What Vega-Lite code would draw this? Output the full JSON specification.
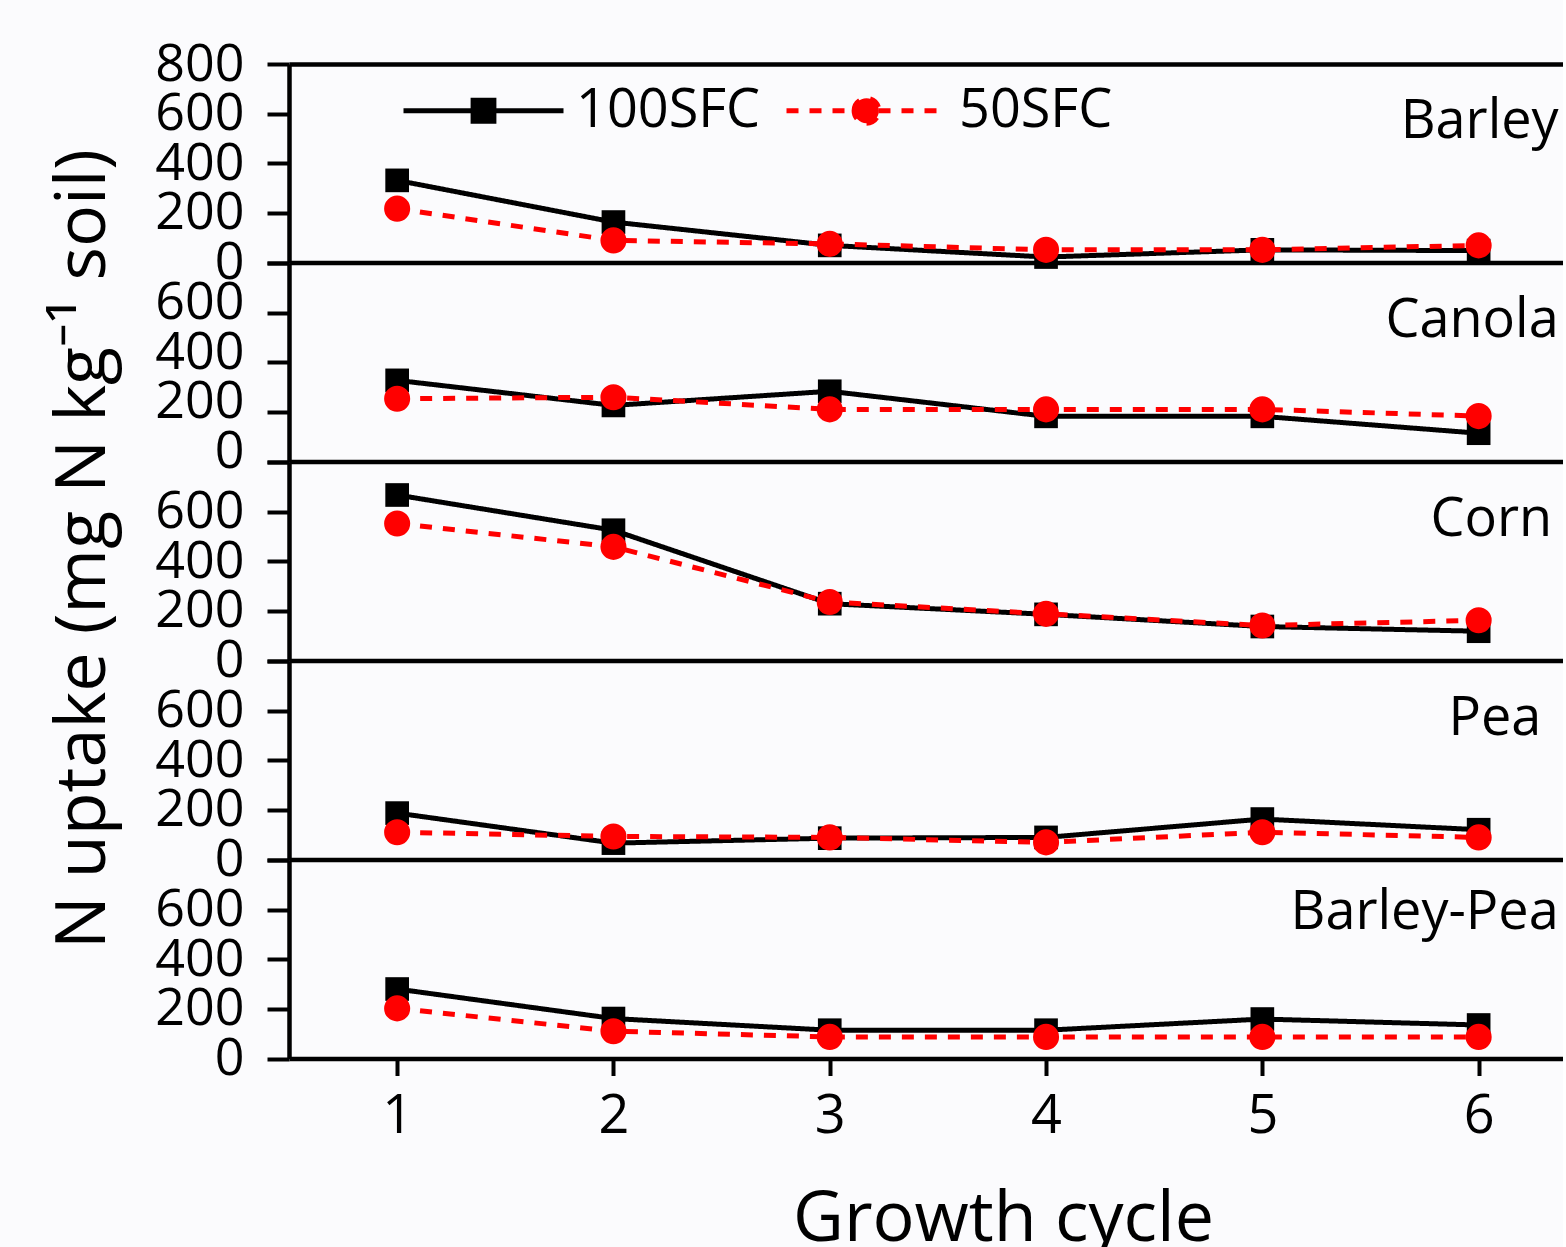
{
  "$schema": "https://vega.github.io/schema/vega-lite/v6.json",
  "background": "#fbfbfd",
  "padding": {"left": 47, "top": 28, "right": 0, "bottom": 0},
  "spacing": 0,
  "bounds": "flush",
  "config": {
    "font": "Open Sans",
    "view": {"stroke": null},
    "axis": {"grid": false, "domainColor": "black", "tickColor": "black", "labelColor": "black", "titleColor": "black", "titleFontWeight": "normal"}
  },
  "datasets": {
    "uptake": [
      {"crop": "Barley", "treatment": "100SFC", "cycle": 1, "uptake": 331},
      {"crop": "Barley", "treatment": "100SFC", "cycle": 2, "uptake": 163},
      {"crop": "Barley", "treatment": "100SFC", "cycle": 3, "uptake": 69},
      {"crop": "Barley", "treatment": "100SFC", "cycle": 4, "uptake": 22},
      {"crop": "Barley", "treatment": "100SFC", "cycle": 5, "uptake": 51},
      {"crop": "Barley", "treatment": "100SFC", "cycle": 6, "uptake": 48},
      {"crop": "Canola", "treatment": "100SFC", "cycle": 1, "uptake": 327},
      {"crop": "Canola", "treatment": "100SFC", "cycle": 2, "uptake": 226},
      {"crop": "Canola", "treatment": "100SFC", "cycle": 3, "uptake": 283},
      {"crop": "Canola", "treatment": "100SFC", "cycle": 4, "uptake": 182},
      {"crop": "Canola", "treatment": "100SFC", "cycle": 5, "uptake": 182},
      {"crop": "Canola", "treatment": "100SFC", "cycle": 6, "uptake": 114},
      {"crop": "Corn", "treatment": "100SFC", "cycle": 1, "uptake": 667},
      {"crop": "Corn", "treatment": "100SFC", "cycle": 2, "uptake": 525},
      {"crop": "Corn", "treatment": "100SFC", "cycle": 3, "uptake": 229},
      {"crop": "Corn", "treatment": "100SFC", "cycle": 4, "uptake": 186},
      {"crop": "Corn", "treatment": "100SFC", "cycle": 5, "uptake": 137},
      {"crop": "Corn", "treatment": "100SFC", "cycle": 6, "uptake": 118},
      {"crop": "Pea", "treatment": "100SFC", "cycle": 1, "uptake": 187},
      {"crop": "Pea", "treatment": "100SFC", "cycle": 2, "uptake": 66},
      {"crop": "Pea", "treatment": "100SFC", "cycle": 3, "uptake": 86},
      {"crop": "Pea", "treatment": "100SFC", "cycle": 4, "uptake": 89},
      {"crop": "Pea", "treatment": "100SFC", "cycle": 5, "uptake": 163},
      {"crop": "Pea", "treatment": "100SFC", "cycle": 6, "uptake": 120},
      {"crop": "Barley-Pea", "treatment": "100SFC", "cycle": 1, "uptake": 280},
      {"crop": "Barley-Pea", "treatment": "100SFC", "cycle": 2, "uptake": 161},
      {"crop": "Barley-Pea", "treatment": "100SFC", "cycle": 3, "uptake": 114},
      {"crop": "Barley-Pea", "treatment": "100SFC", "cycle": 4, "uptake": 114},
      {"crop": "Barley-Pea", "treatment": "100SFC", "cycle": 5, "uptake": 159},
      {"crop": "Barley-Pea", "treatment": "100SFC", "cycle": 6, "uptake": 135},
      {"crop": "Barley", "treatment": "50SFC", "cycle": 1, "uptake": 217},
      {"crop": "Barley", "treatment": "50SFC", "cycle": 2, "uptake": 89},
      {"crop": "Barley", "treatment": "50SFC", "cycle": 3, "uptake": 75},
      {"crop": "Barley", "treatment": "50SFC", "cycle": 4, "uptake": 51},
      {"crop": "Barley", "treatment": "50SFC", "cycle": 5, "uptake": 51},
      {"crop": "Barley", "treatment": "50SFC", "cycle": 6, "uptake": 69},
      {"crop": "Canola", "treatment": "50SFC", "cycle": 1, "uptake": 253},
      {"crop": "Canola", "treatment": "50SFC", "cycle": 2, "uptake": 259},
      {"crop": "Canola", "treatment": "50SFC", "cycle": 3, "uptake": 210},
      {"crop": "Canola", "treatment": "50SFC", "cycle": 4, "uptake": 210},
      {"crop": "Canola", "treatment": "50SFC", "cycle": 5, "uptake": 210},
      {"crop": "Canola", "treatment": "50SFC", "cycle": 6, "uptake": 183},
      {"crop": "Corn", "treatment": "50SFC", "cycle": 1, "uptake": 552},
      {"crop": "Corn", "treatment": "50SFC", "cycle": 2, "uptake": 458},
      {"crop": "Corn", "treatment": "50SFC", "cycle": 3, "uptake": 236},
      {"crop": "Corn", "treatment": "50SFC", "cycle": 4, "uptake": 188},
      {"crop": "Corn", "treatment": "50SFC", "cycle": 5, "uptake": 141},
      {"crop": "Corn", "treatment": "50SFC", "cycle": 6, "uptake": 162},
      {"crop": "Pea", "treatment": "50SFC", "cycle": 1, "uptake": 110},
      {"crop": "Pea", "treatment": "50SFC", "cycle": 2, "uptake": 93},
      {"crop": "Pea", "treatment": "50SFC", "cycle": 3, "uptake": 89},
      {"crop": "Pea", "treatment": "50SFC", "cycle": 4, "uptake": 69},
      {"crop": "Pea", "treatment": "50SFC", "cycle": 5, "uptake": 110},
      {"crop": "Pea", "treatment": "50SFC", "cycle": 6, "uptake": 89},
      {"crop": "Barley-Pea", "treatment": "50SFC", "cycle": 1, "uptake": 202},
      {"crop": "Barley-Pea", "treatment": "50SFC", "cycle": 2, "uptake": 110},
      {"crop": "Barley-Pea", "treatment": "50SFC", "cycle": 3, "uptake": 87},
      {"crop": "Barley-Pea", "treatment": "50SFC", "cycle": 4, "uptake": 87},
      {"crop": "Barley-Pea", "treatment": "50SFC", "cycle": 5, "uptake": 87},
      {"crop": "Barley-Pea", "treatment": "50SFC", "cycle": 6, "uptake": 87}
    ]
  },
  "vconcat": [
    {
      "width": 1274, "height": 198.5,
      "data": {"name": "uptake"},
      "transform": [{"filter": "datum.crop === 'Barley'"}],
      "resolve": {"axis": {"x": "independent"}},
      "layer": [
        {
          "mark": {"type": "line", "strokeWidth": 5},
          "encoding": {
            "x": {"field": "cycle", "type": "quantitative", "scale": {"domain": [0.5, 6.39], "nice": false, "zero": false},
                  "axis": {"orient": "bottom", "domainWidth": 4.5, "ticks": false, "labels": false, "title": null}},
            "y": {"field": "uptake", "type": "quantitative", "scale": {"domain": [0, 800], "nice": false},
                  "axis": {"values": [0, 100, 200, 300, 400, 500, 600, 700, 800], "labelExpr": "datum.value % 200 === 0 ? datum.label : ''",
                           "tickSize": {"condition": {"test": "datum.value % 200 === 0", "value": 22}, "value": 11},
                           "tickWidth": 4, "domainWidth": 4.5, "labelFontSize": 52, "labelPadding": 23, "labelOverlap": false, "labelBound": false, "labelFlush": false, "title": null}},
            "color": {"field": "treatment", "type": "nominal", "scale": {"domain": ["100SFC", "50SFC"], "range": ["#000000", "#ff0000"]},
                      "legend": {"title": null, "orient": "none", "legendX": 112, "legendY": -36, "direction": "horizontal", "padding": 0,
                                 "symbolSize": 25600, "symbolStrokeWidth": 5, "labelFontSize": 54, "labelColor": "black", "labelOffset": 10, "labelLimit": 400, "columnPadding": 15,
                                 "encode": {"symbols": {"update": {
                                   "shape": {"signal": "datum.value === '100SFC' ? 'M-1,0H1M-0.13,-0.13H0.13V0.13H-0.13Z' : 'M-1,0H1M-0.155,0A0.155,0.155,0,1,1,0.155,0A0.155,0.155,0,1,1,-0.155,0Z'"},
                                   "fill": {"signal": "datum.value === '100SFC' ? '#000000' : '#ff0000'"},
                                   "stroke": {"signal": "datum.value === '100SFC' ? '#000000' : '#ff0000'"},
                                   "strokeDash": {"signal": "datum.value === '100SFC' ? [1, 0] : [12, 11]"},
                                   "strokeWidth": {"value": 5},
                                   "opacity": {"value": 1}}}}}},
            "strokeDash": {"field": "treatment", "type": "nominal", "scale": {"domain": ["100SFC", "50SFC"], "range": [[1, 0], [12, 11]]}, "legend": null}
          }
        },
        {
          "transform": [{"filter": "datum.treatment === '100SFC'"}],
          "mark": {"type": "point", "shape": "square", "filled": true, "opacity": 1, "size": 560, "color": "#000000"},
          "encoding": {
            "x": {"field": "cycle", "type": "quantitative", "axis": {"orient": "top", "domainWidth": 4.5, "ticks": false, "labels": false, "title": null}},
            "y": {"field": "uptake", "type": "quantitative"}
          }
        },
        {
          "transform": [{"filter": "datum.treatment === '50SFC'"}],
          "mark": {"type": "point", "shape": "circle", "filled": true, "opacity": 1, "size": 680, "color": "#ff0000"},
          "encoding": {
            "x": {"field": "cycle", "type": "quantitative", "axis": null},
            "y": {"field": "uptake", "type": "quantitative"}
          }
        },
        {
          "transform": [{"filter": "datum.cycle === 1 && datum.treatment === '100SFC'"}],
          "mark": {"type": "text", "align": "right", "baseline": "alphabetic", "fontSize": 54, "color": "black"},
          "encoding": {
            "x": {"datum": 6.37, "type": "quantitative", "axis": null},
            "y": {"datum": 500, "type": "quantitative"},
            "text": {"field": "crop"}
          }
        }
      ]
    },
    {
      "width": 1274, "height": 198.5,
      "data": {"name": "uptake"},
      "transform": [{"filter": "datum.crop === 'Canola'"}],
      "layer": [
        {
          "mark": {"type": "line", "strokeWidth": 5},
          "encoding": {
            "x": {"field": "cycle", "type": "quantitative", "scale": {"domain": [0.5, 6.39], "nice": false, "zero": false},
                  "axis": {"orient": "bottom", "domainWidth": 4.5, "ticks": false, "labels": false, "title": null}},
            "y": {"field": "uptake", "type": "quantitative", "scale": {"domain": [0, 800], "nice": false},
                  "axis": {"values": [0, 100, 200, 300, 400, 500, 600, 700, 800], "labelExpr": "datum.value % 200 === 0 && datum.value < 800 ? datum.label : ''",
                           "tickSize": {"condition": {"test": "datum.value % 200 === 0", "value": 22}, "value": 11},
                           "tickWidth": 4, "domainWidth": 4.5, "labelFontSize": 52, "labelPadding": 23, "labelOffset": -10, "labelOverlap": false, "labelBound": false, "labelFlush": false, "title": null}},
            "color": {"field": "treatment", "type": "nominal", "scale": {"domain": ["100SFC", "50SFC"], "range": ["#000000", "#ff0000"]}, "legend": null},
            "strokeDash": {"field": "treatment", "type": "nominal", "scale": {"domain": ["100SFC", "50SFC"], "range": [[1, 0], [12, 11]]}, "legend": null}
          }
        },
        {
          "transform": [{"filter": "datum.treatment === '100SFC'"}],
          "mark": {"type": "point", "shape": "square", "filled": true, "opacity": 1, "size": 560, "color": "#000000"},
          "encoding": {"x": {"field": "cycle", "type": "quantitative"}, "y": {"field": "uptake", "type": "quantitative"}}
        },
        {
          "transform": [{"filter": "datum.treatment === '50SFC'"}],
          "mark": {"type": "point", "shape": "circle", "filled": true, "opacity": 1, "size": 680, "color": "#ff0000"},
          "encoding": {"x": {"field": "cycle", "type": "quantitative"}, "y": {"field": "uptake", "type": "quantitative"}}
        },
        {
          "transform": [{"filter": "datum.cycle === 1 && datum.treatment === '100SFC'"}],
          "mark": {"type": "text", "align": "right", "baseline": "alphabetic", "fontSize": 54, "color": "black"},
          "encoding": {"x": {"datum": 6.37, "type": "quantitative"}, "y": {"datum": 500, "type": "quantitative"}, "text": {"field": "crop"}}
        }
      ]
    },
    {
      "width": 1274, "height": 198.5,
      "data": {"name": "uptake"},
      "transform": [{"filter": "datum.crop === 'Corn'"}],
      "layer": [
        {
          "mark": {"type": "line", "strokeWidth": 5},
          "encoding": {
            "x": {"field": "cycle", "type": "quantitative", "scale": {"domain": [0.5, 6.39], "nice": false, "zero": false},
                  "axis": {"orient": "bottom", "domainWidth": 4.5, "ticks": false, "labels": false, "title": null}},
            "y": {"field": "uptake", "type": "quantitative", "scale": {"domain": [0, 800], "nice": false},
                  "axis": {"values": [0, 100, 200, 300, 400, 500, 600, 700, 800], "labelExpr": "datum.value % 200 === 0 && datum.value < 800 ? datum.label : ''",
                           "tickSize": {"condition": {"test": "datum.value % 200 === 0", "value": 22}, "value": 11},
                           "tickWidth": 4, "domainWidth": 4.5, "labelFontSize": 52, "labelPadding": 23, "labelOverlap": false, "labelBound": false, "labelFlush": false,
                           "title": "N uptake (mg N kg⁻¹ soil)", "titleFontSize": 70, "titleX": -185, "titleY": 86.5, "titleBaseline": "alphabetic", "titleAlign": "center", "titleAngle": -90}},
            "color": {"field": "treatment", "type": "nominal", "scale": {"domain": ["100SFC", "50SFC"], "range": ["#000000", "#ff0000"]}, "legend": null},
            "strokeDash": {"field": "treatment", "type": "nominal", "scale": {"domain": ["100SFC", "50SFC"], "range": [[1, 0], [12, 11]]}, "legend": null}
          }
        },
        {
          "transform": [{"filter": "datum.treatment === '100SFC'"}],
          "mark": {"type": "point", "shape": "square", "filled": true, "opacity": 1, "size": 560, "color": "#000000"},
          "encoding": {"x": {"field": "cycle", "type": "quantitative"}, "y": {"field": "uptake", "type": "quantitative"}}
        },
        {
          "transform": [{"filter": "datum.treatment === '50SFC'"}],
          "mark": {"type": "point", "shape": "circle", "filled": true, "opacity": 1, "size": 680, "color": "#ff0000"},
          "encoding": {"x": {"field": "cycle", "type": "quantitative"}, "y": {"field": "uptake", "type": "quantitative"}}
        },
        {
          "transform": [{"filter": "datum.cycle === 1 && datum.treatment === '100SFC'"}],
          "mark": {"type": "text", "align": "right", "baseline": "alphabetic", "fontSize": 54, "color": "black"},
          "encoding": {"x": {"datum": 6.34, "type": "quantitative"}, "y": {"datum": 500, "type": "quantitative"}, "text": {"field": "crop"}}
        }
      ]
    },
    {
      "width": 1274, "height": 198.5,
      "data": {"name": "uptake"},
      "transform": [{"filter": "datum.crop === 'Pea'"}],
      "layer": [
        {
          "mark": {"type": "line", "strokeWidth": 5},
          "encoding": {
            "x": {"field": "cycle", "type": "quantitative", "scale": {"domain": [0.5, 6.39], "nice": false, "zero": false},
                  "axis": {"orient": "bottom", "domainWidth": 4.5, "ticks": false, "labels": false, "title": null}},
            "y": {"field": "uptake", "type": "quantitative", "scale": {"domain": [0, 800], "nice": false},
                  "axis": {"values": [0, 100, 200, 300, 400, 500, 600, 700, 800], "labelExpr": "datum.value % 200 === 0 && datum.value < 800 ? datum.label : ''",
                           "tickSize": {"condition": {"test": "datum.value % 200 === 0", "value": 22}, "value": 11},
                           "tickWidth": 4, "domainWidth": 4.5, "labelFontSize": 52, "labelPadding": 23, "labelOverlap": false, "labelBound": false, "labelFlush": false, "title": null}},
            "color": {"field": "treatment", "type": "nominal", "scale": {"domain": ["100SFC", "50SFC"], "range": ["#000000", "#ff0000"]}, "legend": null},
            "strokeDash": {"field": "treatment", "type": "nominal", "scale": {"domain": ["100SFC", "50SFC"], "range": [[1, 0], [12, 11]]}, "legend": null}
          }
        },
        {
          "transform": [{"filter": "datum.treatment === '100SFC'"}],
          "mark": {"type": "point", "shape": "square", "filled": true, "opacity": 1, "size": 560, "color": "#000000"},
          "encoding": {"x": {"field": "cycle", "type": "quantitative"}, "y": {"field": "uptake", "type": "quantitative"}}
        },
        {
          "transform": [{"filter": "datum.treatment === '50SFC'"}],
          "mark": {"type": "point", "shape": "circle", "filled": true, "opacity": 1, "size": 680, "color": "#ff0000"},
          "encoding": {"x": {"field": "cycle", "type": "quantitative"}, "y": {"field": "uptake", "type": "quantitative"}}
        },
        {
          "transform": [{"filter": "datum.cycle === 1 && datum.treatment === '100SFC'"}],
          "mark": {"type": "text", "align": "right", "baseline": "alphabetic", "fontSize": 54, "color": "black"},
          "encoding": {"x": {"datum": 6.29, "type": "quantitative"}, "y": {"datum": 500, "type": "quantitative"}, "text": {"field": "crop"}}
        }
      ]
    },
    {
      "width": 1274, "height": 198.5,
      "data": {"name": "uptake"},
      "transform": [{"filter": "datum.crop === 'Barley-Pea'"}],
      "layer": [
        {
          "mark": {"type": "line", "strokeWidth": 5},
          "encoding": {
            "x": {"field": "cycle", "type": "quantitative", "scale": {"domain": [0.5, 6.39], "nice": false, "zero": false},
                  "axis": {"orient": "bottom", "values": [1, 2, 3, 4, 5, 6], "format": "d", "domainWidth": 4.5, "tickSize": 17, "tickWidth": 4, "labelFontSize": 54, "labelPadding": 14, "labelFlush": false, "labelOverlap": false,
                           "title": "Growth cycle", "titleFontSize": 70, "titleX": 714, "titleY": 182, "titleBaseline": "alphabetic", "titleAlign": "center"}},
            "y": {"field": "uptake", "type": "quantitative", "scale": {"domain": [0, 800], "nice": false},
                  "axis": {"values": [0, 100, 200, 300, 400, 500, 600, 700, 800], "labelExpr": "datum.value % 200 === 0 && datum.value < 800 ? datum.label : ''",
                           "tickSize": {"condition": {"test": "datum.value % 200 === 0", "value": 22}, "value": 11},
                           "tickWidth": 4, "domainWidth": 4.5, "labelFontSize": 52, "labelPadding": 23, "labelOverlap": false, "labelBound": false, "labelFlush": false, "title": null}},
            "color": {"field": "treatment", "type": "nominal", "scale": {"domain": ["100SFC", "50SFC"], "range": ["#000000", "#ff0000"]}, "legend": null},
            "strokeDash": {"field": "treatment", "type": "nominal", "scale": {"domain": ["100SFC", "50SFC"], "range": [[1, 0], [12, 11]]}, "legend": null}
          }
        },
        {
          "transform": [{"filter": "datum.treatment === '100SFC'"}],
          "mark": {"type": "point", "shape": "square", "filled": true, "opacity": 1, "size": 560, "color": "#000000"},
          "encoding": {"x": {"field": "cycle", "type": "quantitative"}, "y": {"field": "uptake", "type": "quantitative"}}
        },
        {
          "transform": [{"filter": "datum.treatment === '50SFC'"}],
          "mark": {"type": "point", "shape": "circle", "filled": true, "opacity": 1, "size": 680, "color": "#ff0000"},
          "encoding": {"x": {"field": "cycle", "type": "quantitative"}, "y": {"field": "uptake", "type": "quantitative"}}
        },
        {
          "transform": [{"filter": "datum.cycle === 1 && datum.treatment === '100SFC'"}],
          "mark": {"type": "text", "align": "right", "baseline": "alphabetic", "fontSize": 54, "color": "black"},
          "encoding": {"x": {"datum": 6.37, "type": "quantitative"}, "y": {"datum": 523, "type": "quantitative"}, "text": {"field": "crop"}}
        }
      ]
    }
  ],
  "resolve": {"scale": {"color": "independent", "strokeDash": "independent"}}
}
